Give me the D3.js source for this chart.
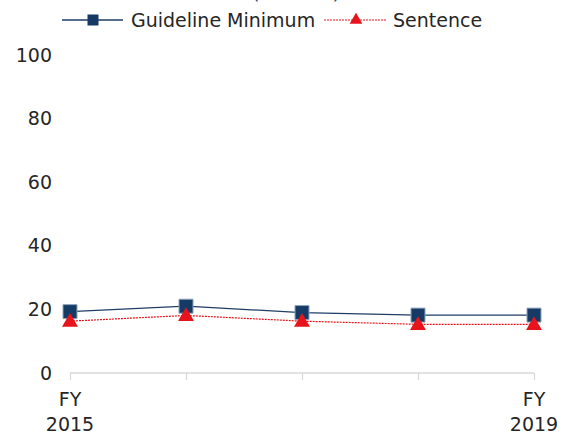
<!DOCTYPE html>
<html>
<head>
<meta charset="utf-8">
<script src="https://cdn.jsdelivr.net/npm/d3@7"></script>
<style>
  body { margin: 0; background: #fff; }
  svg { font-family: 'DejaVu Sans', sans-serif; }
</style>
</head>
<body>
<div id="chart"></div>
<script>
// data
var years = ['FY 2015', 'FY 2016', 'FY 2017', 'FY 2018', 'FY 2019']
var guidelineMin = [19.3, 21, 19, 18.2, 18.2]
var sentence = [16.3, 18.1, 16.3, 15.3, 15.3]
var yTicks = [0, 20, 40, 60, 80, 100]

var width = 570
var height = 435

var svg = d3.select('#chart')
  .append('svg')
  .attr('width', width)
  .attr('height', height)

var xPositionScale = d3.scalePoint()
  .domain(years)
  .range([70, 534])

var yPositionScale = d3.scaleLinear()
  .domain([0, 100])
  .range([373, 55])

// title, mostly above the top edge
svg.append('text')
  .text('(Months)')
  .attr('x', 296)
  .attr('y', -1)
  .attr('text-anchor', 'middle')
  .attr('font-size', 20)
  .attr('fill', '#1f4e79')

// y axis labels only
var yAxis = d3.axisLeft(yPositionScale).tickValues(yTicks).tickSize(0).tickPadding(0)
svg.append('g')
  .attr('class', 'axis y-axis')
  .attr('transform', 'translate(52, 0)')
  .call(yAxis)
  .call(g => g.select('.domain').remove())
  .call(g => g.selectAll('text')
    .attr('font-size', 19)
    .attr('font-family', 'DejaVu Sans')
    .attr('fill', '#262626'))

// x axis
var xAxis = d3.axisBottom(xPositionScale).tickSize(7).tickFormat('')
var xg = svg.append('g')
  .attr('class', 'axis x-axis')
  .attr('transform', 'translate(0, 373)')
  .call(xAxis)
xg.select('.domain').attr('stroke', '#d9d9d9').attr('stroke-width', 1.3)
  .attr('d', `M70,0H534`)
xg.selectAll('.tick line').attr('stroke', '#d9d9d9').attr('stroke-width', 1.3)

var labelled = [years[0], years[years.length - 1]]
labelled.forEach(function (yr) {
  var parts = yr.split(' ')
  var t = svg.append('text')
    .attr('x', xPositionScale(yr))
    .attr('text-anchor', 'middle')
    .attr('font-size', 19)
    .attr('fill', '#262626')
  t.append('tspan').attr('x', xPositionScale(yr)).attr('y', 406).text(parts[0])
  t.append('tspan').attr('x', xPositionScale(yr)).attr('y', 431).text(parts[1])
})

var line = d3.line()
  .x((d, i) => xPositionScale(years[i]))
  .y(d => yPositionScale(d))

// guideline line
svg.append('path')
  .datum(guidelineMin)
  .attr('d', line)
  .attr('fill', 'none')
  .attr('stroke', '#1f3d66')
  .attr('stroke-width', 1.3)

// sentence line
svg.append('path')
  .datum(sentence)
  .attr('d', line)
  .attr('fill', 'none')
  .attr('stroke', '#e8141b')
  .attr('stroke-width', 1.2)
  .attr('stroke-dasharray', '2,1')

var square = d3.symbol().type(d3.symbolSquare).size(196)
var triangle = d3.symbol().type(d3.symbolTriangle).size(110)

svg.selectAll('.sq')
  .data(guidelineMin)
  .enter()
  .append('path')
  .attr('class', 'sq')
  .attr('d', square)
  .attr('transform', (d, i) => `translate(${xPositionScale(years[i])}, ${yPositionScale(d)})`)
  .attr('fill', '#163a66')
  .attr('stroke', '#8ea2bb')
  .attr('stroke-width', 1)

svg.selectAll('.tri')
  .data(sentence)
  .enter()
  .append('path')
  .attr('class', 'tri')
  .attr('d', triangle)
  .attr('transform', (d, i) => `translate(${xPositionScale(years[i])}, ${yPositionScale(d) + 1})`)
  .attr('fill', '#e8141b')

// legend
var legend = svg.append('g').attr('class', 'legend')
legend.append('line')
  .attr('x1', 62).attr('x2', 123).attr('y1', 20).attr('y2', 20)
  .attr('stroke', '#1f3d66').attr('stroke-width', 1.3)
legend.append('path')
  .attr('d', d3.symbol().type(d3.symbolSquare).size(121))
  .attr('transform', 'translate(93, 20)')
  .attr('fill', '#163a66')
legend.append('text')
  .text('Guideline Minimum')
  .attr('x', 131).attr('y', 27)
  .attr('font-size', 19)
  .attr('fill', '#262626')

legend.append('line')
  .attr('x1', 324).attr('x2', 386).attr('y1', 20).attr('y2', 20)
  .attr('stroke', '#e8141b').attr('stroke-width', 1)
  .attr('stroke-dasharray', '2,1')
legend.append('path')
  .attr('d', d3.symbol().type(d3.symbolTriangle).size(70))
  .attr('transform', 'translate(356, 20)')
  .attr('fill', '#e8141b')
legend.append('text')
  .text('Sentence')
  .attr('x', 393).attr('y', 27)
  .attr('font-size', 19)
  .attr('fill', '#262626')
</script>
</body>
</html>
